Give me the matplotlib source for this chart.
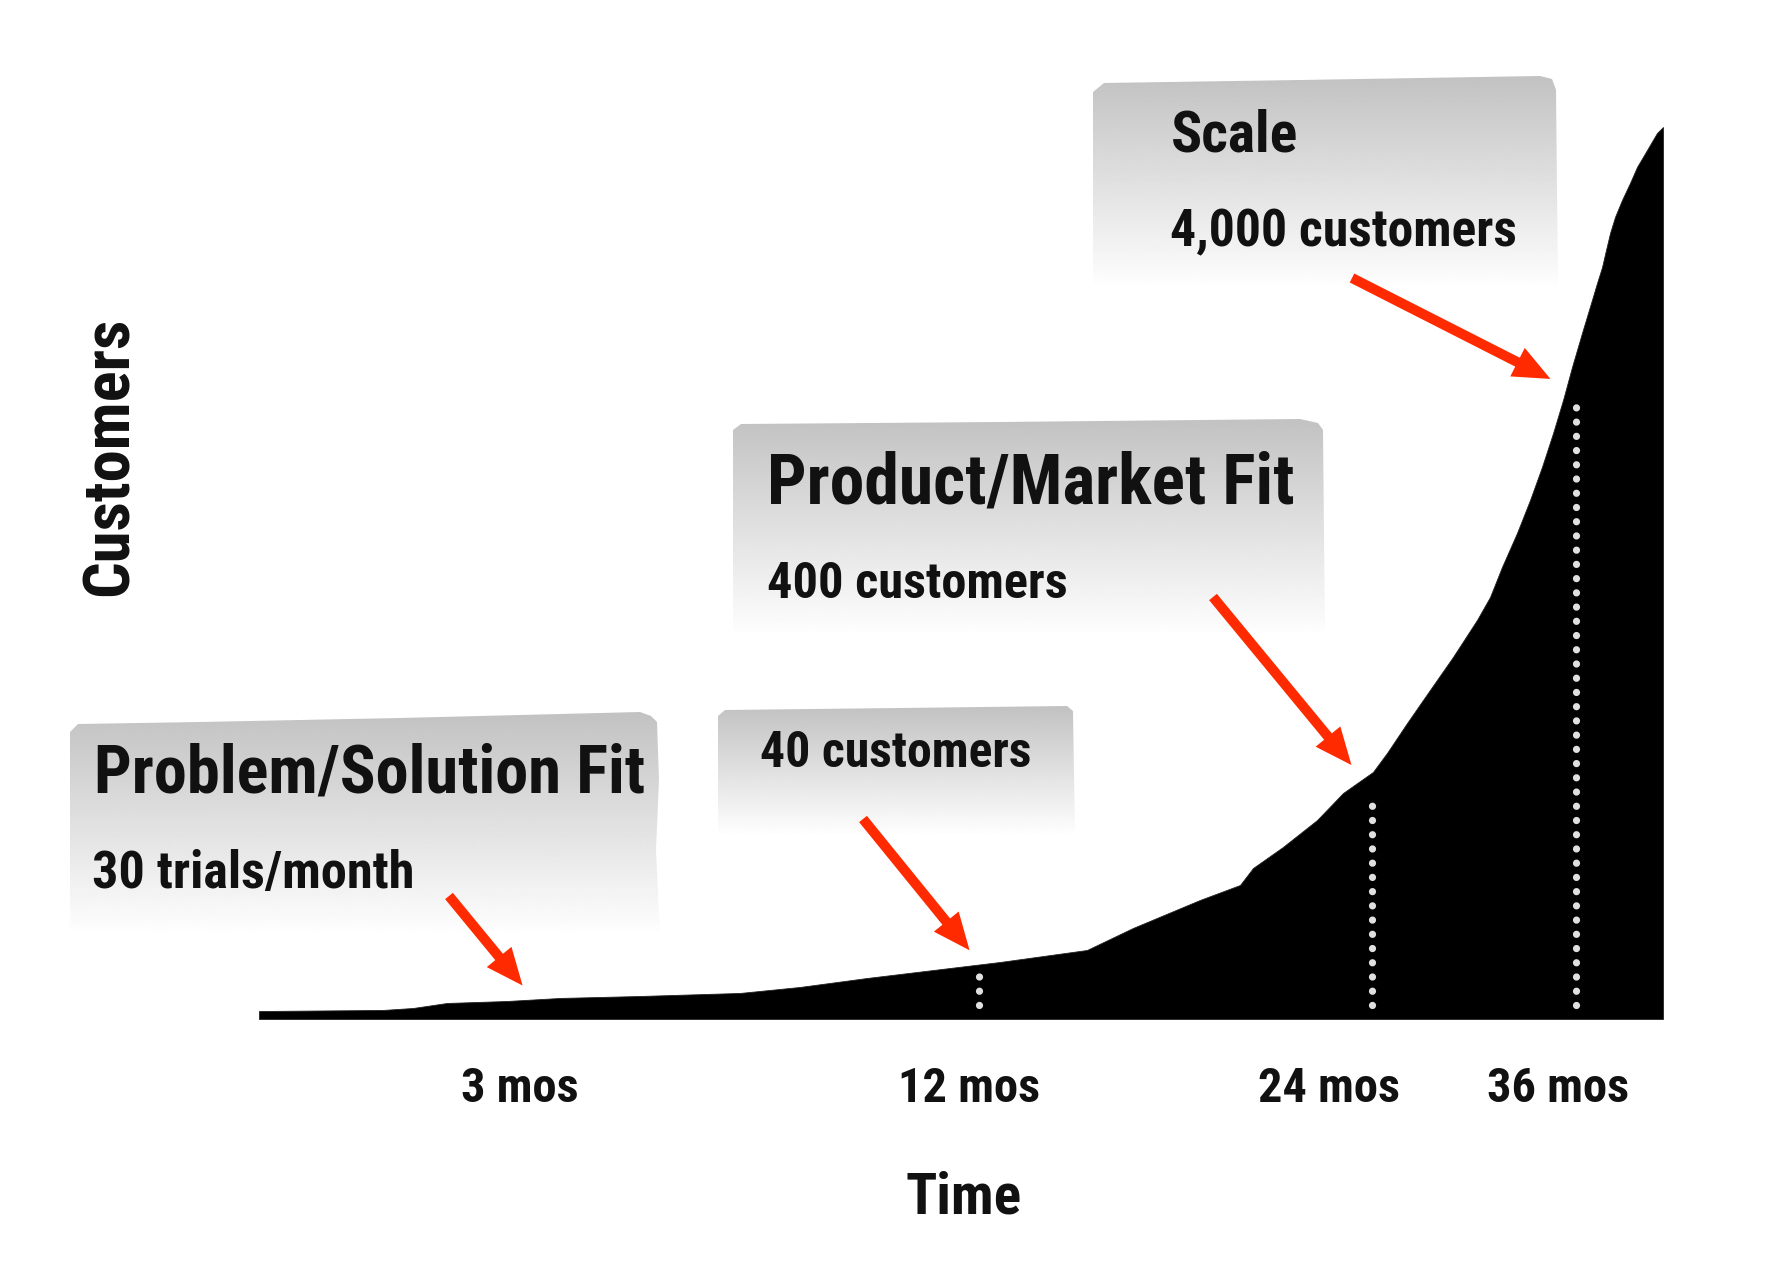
import numpy as np
import matplotlib
matplotlib.use("Agg")
import matplotlib.pyplot as plt
from matplotlib.patches import Polygon
from matplotlib import font_manager as fm

# ---------------- data (schematic units) ----------------
time_pos = [0, 8.83, 10.97, 13.39, 17.66, 21.44, 27.14, 34.26, 38.53, 43.30,
            48.01, 52.78, 58.97, 62.25, 67.02, 69.87, 70.80, 72.93, 75.36, 77.21,
            79.34, 80.34, 81.77, 83.40, 85.04, 86.75, 87.68, 88.53, 89.60, 90.53,
            91.38, 92.17, 92.88, 93.52, 94.23, 94.94, 95.30, 95.66, 95.94, 96.23,
            96.58, 97.08, 97.65, 98.15, 98.86, 99.57, 100]
customers_level = [0.89, 1.01, 1.23, 1.79, 2.01, 2.35, 2.57, 2.91, 3.58, 4.58,
                   5.47, 6.37, 7.71, 10.17, 13.30, 14.97, 16.87, 19.22, 22.23, 25.25,
                   27.60, 29.72, 33.07, 36.76, 40.45, 44.58, 47.15, 50.50, 54.30, 57.99,
                   61.68, 65.47, 69.16, 72.85, 76.65, 80.34, 82.23, 84.02, 85.92, 87.82,
                   89.61, 91.51, 93.41, 95.20, 97.09, 98.99, 99.66]

tick_labels = ["3 mos", "12 mos", "24 mos", "36 mos"]
tick_pos = [18.6, 50.6, 76.2, 92.5]

milestone_pos = [51.3, 79.3, 93.8]          # dotted white markers
arrow_targets = [19.59, 51.42, 78.63, 93.13]  # where each red arrow points

stage_titles = ["Problem/Solution Fit", "Product/Market Fit", "Scale"]
stage_notes = ["30 trials/month", "40 customers", "400 customers", "4,000 customers"]
x_label = "Time"
y_label = "Customers"

# ---------------- layout (figure pixels, y measured from top) ----------------
W, H = 1768, 1278
title_layout = [(94, 793, 551), (767, 503, 526), (1171, 152, 127)]
note_layout = [(92, 888, 323), (760, 767, 272), (767, 598, 301), (1170, 246, 347)]
arrow_tails = [(449, 896), (863, 819), (1213, 597), (1352, 278)]
tick_widths = [117, 132, 152, 144]
box_polys = [
    [(70, 732), (78, 724), (200, 722), (400, 718), (560, 714), (640, 712),
     (651, 716), (657, 722), (659, 780), (656, 850), (660, 936), (70, 936)],
    [(718, 716), (725, 710), (900, 708), (1067, 706), (1073, 711), (1075, 836), (718, 836)],
    [(733, 430), (741, 424), (1000, 422), (1300, 419), (1318, 423), (1323, 430),
     (1325, 637), (733, 637)],
    [(1093, 92), (1104, 83), (1300, 80), (1540, 76), (1552, 79), (1556, 90),
     (1558, 290), (1093, 290)],
]

names = {f.name for f in fm.fontManager.ttflist}
cands = ["Roboto Condensed", "Liberation Sans Narrow", "DejaVu Sans Condensed",
         "Open Sans Condensed", "DejaVu Sans"]
FONT = next((c for c in cands if c in names), "DejaVu Sans")
TXT = dict(family=FONT, fontweight="bold", fontstretch="condensed", color="#111111")

fig = plt.figure(figsize=(W / 100, H / 100), dpi=100)
fig.patch.set_facecolor("white")

# background layer with gradient label boxes
ax_bg = fig.add_axes([0, 0, 1, 1], zorder=0)
ax_bg.axis("off")
grad = np.linspace(194, 255, 256)[:, None]
for poly in box_polys:
    xs = [p[0] for p in poly]
    ys = [p[1] for p in poly]
    im = ax_bg.imshow(grad, cmap="gray", vmin=0, vmax=255,
                      extent=(min(xs), max(xs), max(ys), min(ys)),
                      aspect="auto", interpolation="bilinear", origin="upper")
    patch = Polygon(poly, closed=True, fc="none", ec="none")
    ax_bg.add_patch(patch)
    im.set_clip_path(patch)
ax_bg.set_xlim(0, W)
ax_bg.set_ylim(H, 0)

# main chart axes
ax = fig.add_axes([259 / W, (H - 1019) / H, 1404 / W, 895 / H], zorder=2)
ax.set_facecolor("none")
ax.fill_between(time_pos, 0, customers_level, color="black", lw=0.6,
                edgecolor="#222222", zorder=2)
ax.set_xlim(0, 100)
ax.set_ylim(0, 100)
for s in ax.spines.values():
    s.set_visible(False)
ax.set_yticks([])
ax.set_xticks(tick_pos, tick_labels, fontsize=30, **TXT)
ax.tick_params(axis="x", length=0, pad=33.5)

for m in milestone_pos:
    top = 0.92 * np.interp(m, time_pos, customers_level)
    ax.plot([m, m], [1.6, top], color="#e0e0e0", lw=5.2,
            ls=(0, (0.01, 1.96)), dash_capstyle="round", zorder=3)

for (tx, ty), tgt in zip(arrow_tails, arrow_targets):
    ax.annotate("", xy=(tgt, np.interp(tgt, time_pos, customers_level)),
                xycoords="data", xytext=(tx, H - ty), textcoords="figure pixels",
                arrowprops=dict(arrowstyle="simple,head_length=26.6,head_width=23,tail_width=7.2",
                                mutation_scale=1, color="#ff2a00", lw=0,
                                shrinkA=0, shrinkB=13),
                annotation_clip=False, zorder=4)

xl = ax.set_xlabel(x_label, fontsize=40, **TXT)
ax.xaxis.set_label_coords((964 - 259) / 1404, (1019 - 1170) / 895)
yl = ax.set_ylabel(y_label, fontsize=40, **TXT)
ax.yaxis.set_label_coords((128 - 259) / 1404, (1019 - 456) / 895)
yl.set_va("baseline")

fit = []
for s, (x0, yb, wt) in zip(stage_titles, title_layout):
    t = fig.text(x0 / W, (H - yb) / H, s, ha="left", va="baseline", fontsize=40, zorder=5, **TXT)
    fit.append((t, wt, "w"))
for s, (x0, yb, wt) in zip(stage_notes, note_layout):
    t = fig.text(x0 / W, (H - yb) / H, s, ha="left", va="baseline", fontsize=30, zorder=5, **TXT)
    fit.append((t, wt, "w"))
fit.append((xl, 116, "w"))
fit.append((yl, 279, "h"))

fig.canvas.draw()
r = fig.canvas.get_renderer()
for t, target, d in fit:
    bb = t.get_window_extent(r)
    size = bb.width if d == "w" else bb.height
    t.set_fontsize(t.get_fontsize() * target / size)
labs = ax.get_xticklabels()
ratios = [tw / lab.get_window_extent(r).width for lab, tw in zip(labs, tick_widths)]
ts = 30 * float(np.mean(ratios))
for lab in labs:
    lab.set_fontsize(ts)

fig.savefig("out.png", dpi=100, facecolor="white")
